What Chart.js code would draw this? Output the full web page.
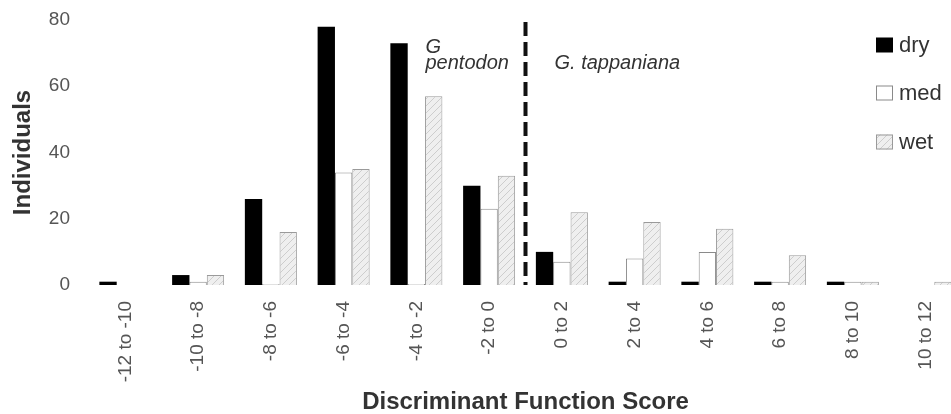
<!DOCTYPE html>
<html>
<head>
<meta charset="utf-8">
<script src="https://cdn.jsdelivr.net/npm/chart.js@4/dist/chart.umd.min.js"></script>
<style>
    html, body { margin: 0; padding: 0; background: #fff; overflow: hidden; }
    #wrap { width: 951px; height: 414px; overflow: hidden; }
</style>
</head>
<body>
<div id="wrap"><canvas id="scoreChart" width="970" height="414"></canvas></div>
<script>
const scoreBins = ['-12 to -10', '-10 to -8', '-8 to -6', '-6 to -4', '-4 to -2', '-2 to 0',
    '0 to 2', '2 to 4', '4 to 6', '6 to 8', '8 to 10', '10 to 12'];
const dryCounts = [1, 3, 26, 78, 73, 30, 10, 1, 1, 1, 1, null];
const medCounts = [null, 1, 0, 34, 0, 23, 7, 8, 10, 1, 1, null];
const wetCounts = [null, 3, 16, 35, 57, 33, 22, 19, 17, 9, 1, 1];
const yTicks = [0, 20, 40, 60, 80];

const FONT = '"Liberation Sans", Arial, sans-serif';

// light grey fill with faint diagonal hatching for the "wet" bars
function hatchPattern() {
    const c = document.createElement('canvas');
    c.width = 7; c.height = 7;
    const g = c.getContext('2d');
    g.fillStyle = '#efefef';
    g.fillRect(0, 0, 7, 7);
    g.strokeStyle = '#c4c4c4';
    g.lineWidth = 0.8;
    g.beginPath();
    g.moveTo(0, 7); g.lineTo(7, 0);
    g.moveTo(-1, 1); g.lineTo(1, -1);
    g.moveTo(6, 8); g.lineTo(8, 6);
    g.stroke();
    return g.createPattern(c, 'repeat');
}

// dashed split between the two species + their names + the legend box
const overlayPlugin = {
    id: 'overlay',
    afterDatasetsDraw(chart) {
        const ctx = chart.ctx;
        const x = chart.scales.x;
        const area = chart.chartArea;
        const splitX = (x.getPixelForValue(5) + x.getPixelForValue(6)) / 2;

        ctx.save();
        ctx.strokeStyle = '#111';
        ctx.lineWidth = 4;
        ctx.setLineDash([14, 6]);
        ctx.beginPath();
        ctx.moveTo(splitX, area.top + 2);
        ctx.lineTo(splitX, area.bottom);
        ctx.stroke();
        ctx.setLineDash([]);

        ctx.fillStyle = '#333';
        ctx.font = 'italic 20px ' + FONT;
        ctx.textAlign = 'left';
        ctx.textBaseline = 'alphabetic';
        ctx.fillText('G', splitX - 100, 53);
        ctx.fillText('pentodon', splitX - 100, 69);
        ctx.fillText('G. tappaniana', splitX + 29, 69);

        const rows = [45, 93, 142];
        ctx.font = '22px ' + FONT;
        ctx.textBaseline = 'middle';
        chart.data.datasets.forEach((ds, i) => {
            const y = rows[i];
            ctx.fillStyle = ds.backgroundColor;
            ctx.fillRect(876, y - 7.5, 17, 15);
            if (ds.borderWidth) {
                ctx.strokeStyle = ds.borderColor;
                ctx.lineWidth = 1;
                ctx.strokeRect(876.5, y - 7, 16, 14);
            }
            ctx.fillStyle = '#333';
            ctx.fillText(ds.label, 899, y + 1);
        });
        ctx.restore();
    }
};

const ctx = document.getElementById('scoreChart').getContext('2d');

new Chart(ctx, {
    type: 'bar',
    data: {
        labels: scoreBins,
        datasets: [
            { label: 'dry', data: dryCounts, backgroundColor: '#000', borderWidth: 0 },
            { label: 'med', data: medCounts, backgroundColor: '#fff', borderColor: '#8a8a8a', borderWidth: 1, minBarLength: 1 },
            { label: 'wet', data: wetCounts, backgroundColor: hatchPattern(), borderColor: '#9a9a9a', borderWidth: 1 }
        ]
    },
    options: {
        responsive: false,
        animation: false,
        layout: { padding: { top: 20, right: 8, bottom: 0, left: 0 } },
        datasets: {
            bar: { categoryPercentage: 0.715, barPercentage: 1.0 }
        },
        plugins: {
            legend: { display: false },
            tooltip: { enabled: false }
        },
        scales: {
            x: {
                grid: { display: false, drawTicks: false },
                border: { display: false },
                ticks: {
                    minRotation: 90,
                    maxRotation: 90,
                    padding: 16,
                    color: '#555',
                    font: { family: FONT, size: 19 }
                },
                title: {
                    display: true,
                    text: 'Discriminant Function Score',
                    color: '#333',
                    font: { family: FONT, size: 24, weight: 'bold', lineHeight: 1 },
                    padding: { top: 0, bottom: 0 }
                },
                afterFit(scale) { scale.height = 129; }
            },
            y: {
                min: 0,
                max: 80,
                grid: { display: false, drawTicks: false },
                border: { display: false },
                afterBuildTicks(scale) { scale.ticks = yTicks.map(v => ({ value: v })); },
                ticks: {
                    padding: 19,
                    color: '#555',
                    font: { family: FONT, size: 19 }
                },
                title: {
                    display: true,
                    text: 'Individuals',
                    color: '#333',
                    font: { family: FONT, size: 24, weight: 'bold', lineHeight: 1 },
                    padding: { top: 11, bottom: 0 }
                },
                afterFit(scale) {
                    scale.width = 89;
                    // tick padding would otherwise push the plot top down
                    scale.paddingTop = 0;
                }
            }
        }
    },
    plugins: [overlayPlugin]
});
</script>
</body>
</html>
